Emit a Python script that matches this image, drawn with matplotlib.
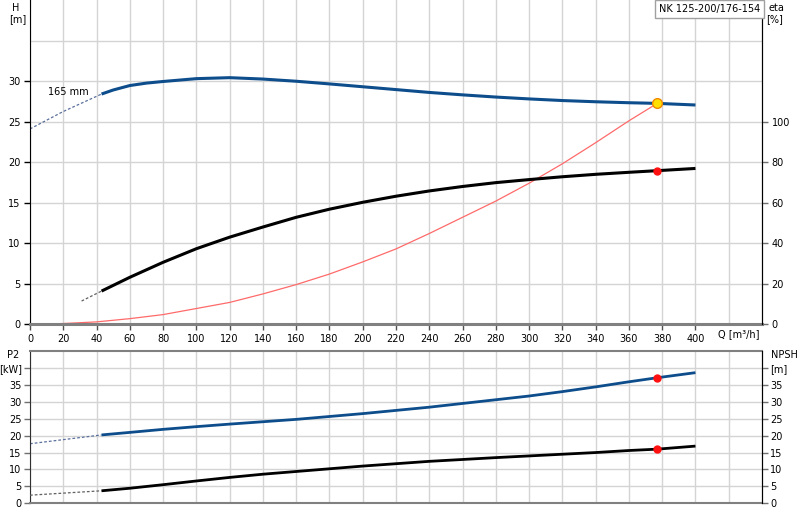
import matplotlib
matplotlib.use("Agg")
import matplotlib.pyplot as plt

plt.rcParams['font.family'] = ['DejaVu Sans']
plt.rcParams['font.size'] = 7

# --- pump curve data ---
q_head = [43, 50, 60, 70, 80, 100, 120, 140, 160, 180, 200, 220, 240, 260, 280, 300, 320, 340, 360, 377, 400]
head = [28.4, 28.9, 29.45, 29.75, 29.95, 30.3, 30.42, 30.25, 29.98, 29.65, 29.3, 28.95, 28.6, 28.3, 28.03, 27.8, 27.6, 27.45, 27.33, 27.25, 27.05]
q_head_ext = [0, 20, 43]
head_ext = [24.1, 26.25, 28.4]

q_eta = [43, 60, 80, 100, 120, 140, 160, 180, 200, 220, 240, 260, 280, 300, 320, 340, 360, 377, 400]
eta = [16.4, 23.2, 30.6, 37.3, 43.0, 48.0, 52.8, 56.8, 60.2, 63.2, 65.8, 68.0, 69.9, 71.4, 72.8, 74.0, 75.0, 75.8, 76.9]
q_eta_ext = [31, 43]
eta_ext = [11.5, 16.4]

q_sys = [3, 20, 40, 60, 80, 100, 120, 140, 160, 180, 200, 220, 240, 260, 280, 300, 320, 340, 360, 377]
h_sys = [0, 0.1, 0.3, 0.7, 1.2, 1.95, 2.7, 3.75, 4.9, 6.2, 7.7, 9.3, 11.2, 13.2, 15.2, 17.4, 19.8, 22.4, 25.1, 27.25]

q_p2 = [43, 60, 80, 100, 120, 140, 160, 200, 240, 280, 300, 320, 340, 360, 377, 400]
p2 = [20.2, 20.95, 21.85, 22.65, 23.4, 24.1, 24.8, 26.5, 28.4, 30.6, 31.7, 33.0, 34.4, 35.9, 37.1, 38.6]
q_p2_ext = [0, 43]
p2_ext = [17.6, 20.2]

q_npsh = [43, 60, 80, 100, 120, 140, 160, 200, 240, 280, 300, 320, 340, 360, 377, 400]
npsh = [3.7, 4.45, 5.5, 6.6, 7.65, 8.6, 9.4, 11.0, 12.4, 13.5, 14.0, 14.5, 15.0, 15.6, 16.0, 16.9]
q_npsh_ext = [0, 43]
npsh_ext = [2.4, 3.7]

q_duty = 377
h_duty = 27.25
eta_duty = 75.8
p2_duty = 37.0
npsh_duty = 16.0

q_ticks = list(range(0, 401, 20))
pump_name = "NK 125-200/176-154"
impeller_label = "165 mm"

BLUE = '#0d4d8c'
GRID = '#d4d4d4'
DASH = (0, (2.2, 1.6))

fig = plt.figure(figsize=(8, 5.2), dpi=100)

# ---------------- top panel: H / eta ----------------
ax = fig.add_axes([0.0375, 0.3763, 0.915, 0.6237])
ax.set_xlim(0, 440)
ax.set_ylim(0, 40)
ax.set_xticks(q_ticks)
ax.set_xticks([420], minor=True)
ax.set_yticks([0, 5, 10, 15, 20, 25, 30])
ax.set_yticks([35], minor=True)
ax.grid(True, which='both', color=GRID, lw=1)
ax.set_axisbelow(True)
ax.tick_params(axis='both', which='major', length=4, width=1, pad=3, colors='black')
ax.tick_params(axis='x', which='major', color='#505050')
ax.tick_params(axis='both', which='minor', length=0)
ax.spines['top'].set_visible(False)
ax.spines['bottom'].set_color('#808080')
ax.spines['bottom'].set_linewidth(2.2)
ax.spines['left'].set_color('black')
ax.spines['right'].set_color('black')

ax.plot(q_head_ext, head_ext, color='#5a6f9c', lw=0.9, ls=DASH)
ax.plot(q_head, head, color=BLUE, lw=2.2, solid_capstyle='butt')
ax.plot(q_sys, h_sys, color='#ff6a6a', lw=0.9)
ax.plot([q_duty], [h_duty], 'o', ms=7, mfc='#ffe000', mec='#f08a00', mew=1, zorder=5)
ax.text(11, 28.6, impeller_label, fontsize=7, ha='left', va='center')
ax.text(426, -1.2, "Q [m³/h]", fontsize=7, ha='center', va='center')

ax_eta = ax.twinx()
ax_eta.set_ylim(0, 160)
ax_eta.set_yticks([0, 20, 40, 60, 80, 100])
ax_eta.tick_params(axis='y', length=4, width=1, pad=3, color='#707070')
for s in ['top', 'bottom', 'left']:
    ax_eta.spines[s].set_visible(False)
ax_eta.spines['right'].set_color('black')
ax_eta.plot(q_eta_ext, eta_ext, color='#606060', lw=0.9, ls=DASH)
ax_eta.plot(q_eta, eta, color='black', lw=2.2, solid_capstyle='butt')
ax_eta.plot([q_duty], [eta_duty], 'o', ms=5, color='#ff1010', zorder=5)

fig.text(0.019, 0.985, "H", ha='center', va='center', fontsize=7)
fig.text(0.022, 0.963, "[m]", ha='center', va='center', fontsize=7)
fig.text(0.971, 0.985, "eta", ha='center', va='center', fontsize=7)
fig.text(0.968, 0.963, "[%]", ha='center', va='center', fontsize=7)
fig.text(0.9505, 0.982, pump_name, ha='right', va='center', fontsize=7,
         bbox=dict(boxstyle='square,pad=0.4', fc='white', ec='#a0a0a0', lw=1))

# ---------------- bottom panel: P2 / NPSH ----------------
ax2 = fig.add_axes([0.0375, 0.0321, 0.915, 0.2929])
ax2.set_xlim(0, 440)
ax2.set_ylim(0, 45)
ax2.set_xticks(q_ticks + [420])
ax2.set_xticklabels([])
ax2.set_yticks(list(range(0, 41, 5)))
ax2.set_yticklabels([str(v) for v in range(0, 36, 5)] + ["[kW]"])
ax2.grid(True, color=GRID, lw=1)
ax2.set_axisbelow(True)
ax2.tick_params(axis='x', length=0)
ax2.tick_params(axis='y', length=4, width=1, pad=2, color='#707070')
for s in ['top', 'bottom']:
    ax2.spines[s].set_color('#808080')
    ax2.spines[s].set_linewidth(1.5)
ax2.spines['left'].set_color('#303030')

ax2.plot(q_p2_ext, p2_ext, color='#5a6f9c', lw=0.9, ls=DASH)
ax2.plot(q_p2, p2, color=BLUE, lw=2.0, solid_capstyle='butt')
ax2.plot([q_duty], [p2_duty], 'o', ms=5, color='#ff1010', zorder=5)

ax_npsh = ax2.twinx()
ax_npsh.set_ylim(0, 45)
ax_npsh.set_yticks(list(range(0, 41, 5)))
ax_npsh.set_yticklabels([str(v) for v in range(0, 36, 5)] + ["[m]"])
ax_npsh.tick_params(axis='y', length=4, width=1, pad=2, color='#707070')
for s in ['top', 'bottom', 'left']:
    ax_npsh.spines[s].set_visible(False)
ax_npsh.spines['right'].set_color('black')
ax_npsh.plot(q_npsh_ext, npsh_ext, color='#606060', lw=0.9, ls=DASH)
ax_npsh.plot(q_npsh, npsh, color='black', lw=2.0, solid_capstyle='butt')
ax_npsh.plot([q_duty], [npsh_duty], 'o', ms=5, color='#ff1010', zorder=5)

fig.text(0.017, 0.317, "P2", ha='center', va='center', fontsize=7)
fig.text(0.981, 0.317, "NPSH", ha='center', va='center', fontsize=7)

fig.savefig("out.png", dpi=100)
